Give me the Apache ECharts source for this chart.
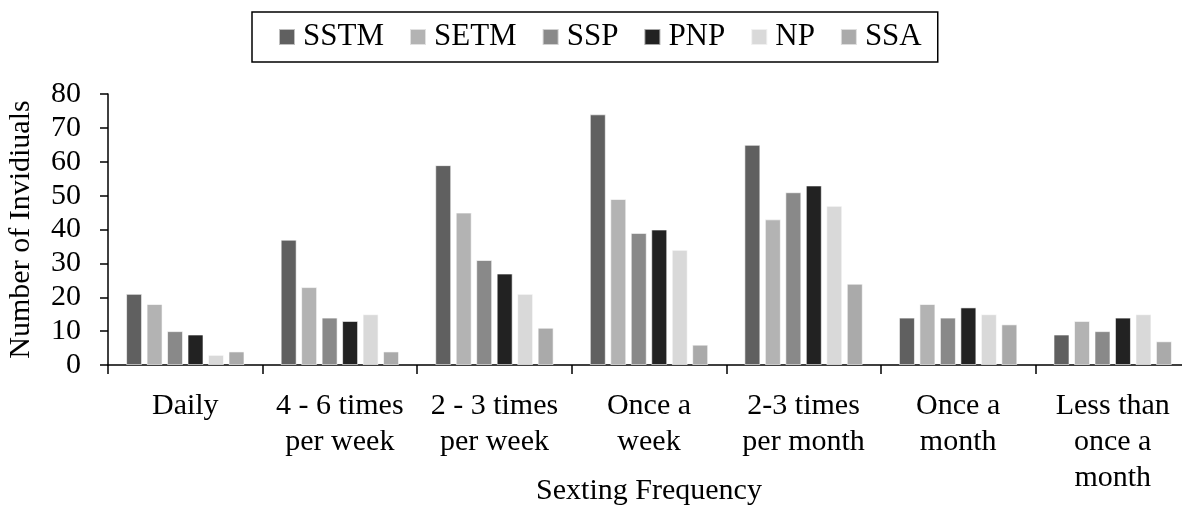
<!DOCTYPE html>
<html>
<head>
<meta charset="utf-8">
<script src="https://cdn.jsdelivr.net/npm/echarts@6/dist/echarts.min.js"></script>
<style>
html,body{margin:0;padding:0;background:#fff;}
#chart{width:1182px;height:506px;}
</style>
</head>
<body>
<div id="chart"></div>
<script>
const categories = ["Daily", "4 - 6 times\nper week", "2 - 3 times\nper week", "Once a\nweek", "2-3 times\nper month", "Once a\nmonth", "Less than\nonce a\nmonth"];
const seriesNames = ["SSTM", "SETM", "SSP", "PNP", "NP", "SSA"];
const SSTM = [21, 37, 59, 74, 65, 14, 9];
const SETM = [18, 23, 45, 49, 43, 18, 13];
const SSP  = [10, 14, 31, 39, 51, 14, 10];
const PNP  = [9, 13, 27, 40, 53, 17, 14];
const NP   = [3, 15, 21, 34, 47, 15, 15];
const SSA  = [4, 4, 11, 6, 24, 12, 7];
const yTicks = [0, 10, 20, 30, 40, 50, 60, 70, 80];

const colors = ["#606060", "#b3b3b3", "#898989", "#222222", "#d9d9d9", "#aaaaaa"];
const values = [SSTM, SETM, SSP, PNP, NP, SSA];
const FONT = "Liberation Serif";

const chart = echarts.init(document.getElementById('chart'), null, {renderer: 'canvas'});
chart.setOption({
  animation: false,
  backgroundColor: '#fff',
  textStyle: {fontFamily: FONT, color: '#000'},
  legend: {
    left: 252, top: 12,
    padding: [9, 16, 9, 26],
    borderColor: '#000', borderWidth: 1.5,
    itemWidth: 16, itemHeight: 16, itemGap: 25,
    icon: 'rect',
    textStyle: {fontFamily: FONT, fontSize: 31, color: '#000', lineHeight: 32, padding: [0, 0, 0, 3]},
    data: seriesNames
  },
  grid: {left: 108, top: 94, width: 1082, height: 271, containLabel: false, outerBoundsMode: 'none'},
  xAxis: {
    type: 'category',
    data: categories,
    boundaryGap: true,
    axisLine: {lineStyle: {color: '#000', width: 1.5}},
    axisTick: {show: true, length: 9, lineStyle: {color: '#000', width: 1.5}},
    axisLabel: {interval: 0, hideOverlap: false, margin: 23, fontFamily: FONT, fontSize: 30, lineHeight: 36, color: '#000'},
    name: 'Sexting Frequency',
    nameLocation: 'middle',
    nameGap: 111,
    nameMoveOverlap: false,
    nameTextStyle: {fontFamily: FONT, fontSize: 30, color: '#000'}
  },
  yAxis: {
    type: 'value',
    min: yTicks[0], max: yTicks[yTicks.length - 1], interval: yTicks[1] - yTicks[0],
    splitLine: {show: false},
    axisLine: {show: true, lineStyle: {color: '#000', width: 1.5}},
    axisTick: {show: true, length: 8, lineStyle: {color: '#000', width: 1.5}},
    axisLabel: {margin: 27, fontFamily: FONT, fontSize: 30, color: '#000'},
    name: 'Number of Invidiuals',
    nameLocation: 'middle',
    nameGap: 72,
    nameMoveOverlap: false,
    nameTextStyle: {fontFamily: FONT, fontSize: 30, color: '#000'}
  },
  series: seriesNames.map((n, i) => ({
    name: n,
    type: 'bar',
    data: values[i],
    barWidth: 16,
    barGap: '28%',
    itemStyle: {color: colors[i], borderColor: 'rgba(255,255,255,0.6)', borderWidth: 1}
  }))
});
</script>
</body>
</html>
